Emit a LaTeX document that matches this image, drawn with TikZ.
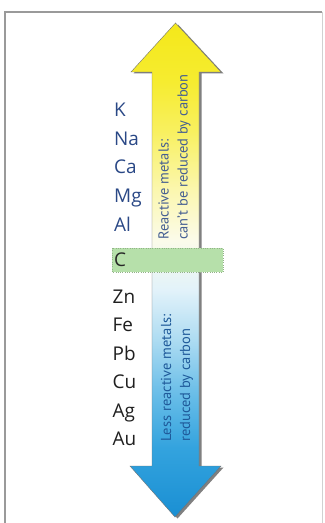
\documentclass[tikz,border=0pt]{standalone}
\usepackage{fontspec}
\setmainfont{PT Sans}
\newfontfamily\labfont{Open Sans}
\definecolor{labblue}{HTML}{2A4886}
\definecolor{rotblue}{HTML}{445E92}
\definecolor{rotblue2}{HTML}{1F5A9A}
\definecolor{bandgreen}{HTML}{B6E0AA}
\definecolor{framegray}{HTML}{9A9A9A}
\definecolor{sA}{HTML}{1A8FD3}
\definecolor{sB}{HTML}{33A3DE}
\definecolor{sC}{HTML}{6FC0E9}
\definecolor{sD}{HTML}{AEDCF2}
\definecolor{sE}{HTML}{E2F2FA}
\definecolor{sF}{HTML}{FBFBEA}
\definecolor{sG}{HTML}{FBF7B0}
\definecolor{sH}{HTML}{F8F060}
\definecolor{sI}{HTML}{F6EC30}
\definecolor{sJ}{HTML}{F4E81A}
\pgfdeclareverticalshading{metalshade}{100bp}{
  color(0bp)=(sA);
  color(25bp)=(sA);
  color(32bp)=(sB);
  color(38bp)=(sC);
  color(43bp)=(sD);
  color(48bp)=(sE);
  color(53bp)=(sF);
  color(58bp)=(sG);
  color(64bp)=(sH);
  color(69bp)=(sI);
  color(75bp)=(sJ);
  color(100bp)=(sJ)}
\tikzset{
  metal/.style={anchor=base west, inner sep=0pt, font=\labfont\fontsize{19}{21}\selectfont},
  topmetal/.style={metal, text=labblue},
  lowmetal/.style={metal, text=black!88},
  rottext/.style={anchor=base west, inner sep=0pt, rotate=90, font=\fontsize{14.5}{16}\selectfont},
}
\begin{document}
\begin{tikzpicture}[x=1bp,y=-1bp]
\useasboundingbox (0,0) rectangle (324,523);
\fill[white] (0,0) rectangle (324,523);
% frame
\draw[framegray, line width=1.1bp] (5,523) -- (5,12) -- (322,12);
\draw[black!18, line width=0.8bp] (322,12) -- (322,523);
% arrow shadow
\fill[black!50, shift={(2.5,1.5)}]
  (175.5,23) -- (221,72) -- (199,72) -- (199,466) -- (221,466) -- (175,517)
  -- (130,466) -- (152,466) -- (152,72) -- (131,72) -- cycle;
% arrow
\shade[shading=metalshade, draw=black!55, line width=0.4bp]
  (175.5,23) -- (221,72) -- (199,72) -- (199,466) -- (221,466) -- (175,517)
  -- (130,466) -- (152,466) -- (152,72) -- (131,72) -- cycle;
% carbon band
\fill[bandgreen] (112,248) rectangle (223,272);
\draw[bandgreen!80!black, line width=0.3bp, dotted] (112,248) rectangle (223,272);
% labels
\node[topmetal] (k) at (114,116.5) {K};
\node[topmetal] (na) at (114,145.5) {Na};
\node[topmetal] (ca) at (114,174) {Ca};
\node[topmetal] (mg) at (114,203) {Mg};
\node[topmetal] (al) at (114,231.5) {Al};
\node[metal, text=black!85] (c) at (114,266.5) {C};
\node[lowmetal] (zn) at (112.5,303) {Zn};
\node[lowmetal] (fe) at (112.5,331.5) {Fe};
\node[lowmetal] (pb) at (112.5,360) {Pb};
\node[lowmetal] (cu) at (112.5,388) {Cu};
\node[lowmetal] (ag) at (112.5,417) {Ag};
\node[lowmetal] (au) at (112.5,445) {Au};
% rotated texts
\node[rottext, text=rotblue] (r1) at (168.5,240) {Reactive metals:};
\node[rottext, text=rotblue] (r2) at (187.5,240) {can't be reduced by carbon};
\node[rottext, text=rotblue2] (l1) at (171,442) {Less reactive metals:};
\node[rottext, text=rotblue2] (l2) at (190,442) {reduced by carbon};
\end{tikzpicture}
\end{document}
